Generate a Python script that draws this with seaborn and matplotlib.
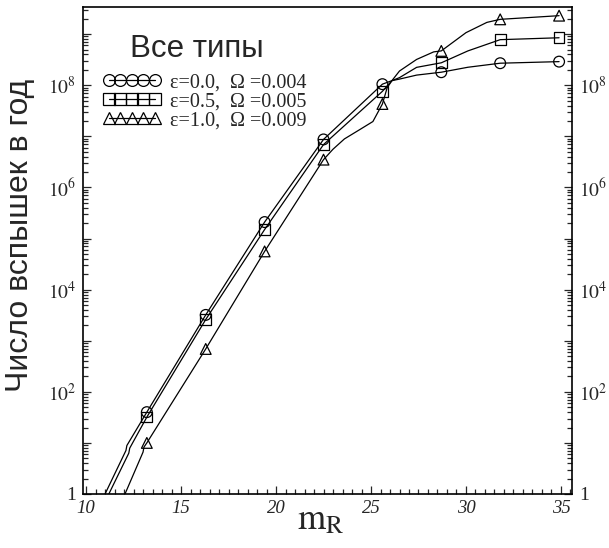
import numpy as np
import pandas as pd
import matplotlib
matplotlib.use("Agg")
import matplotlib.pyplot as plt
import seaborn as sns
from matplotlib.lines import Line2D
from matplotlib.ticker import LogLocator, FuncFormatter, MultipleLocator

# ---------------- data ----------------
marker_x = [13.2, 16.3, 19.4, 22.5, 25.6, 28.7, 31.8, 34.9]
circle_vals = [40, 3.2e3, 2.1e5, 8.7e6, 1.05e8, 1.8e8, 2.7e8, 2.9e8]
square_vals = [32, 2.6e3, 1.5e5, 6.9e6, 7.6e7, 2.75e8, 7.8e8, 8.5e8]
triangle_vals = [10, 690, 5.6e4, 3.5e6, 4.3e7, 4.7e8, 1.95e9, 2.3e9]

circle_curve_x = [11.0, 12.1, 12.15, 13.2, 16.3, 19.4, 22.5, 25.6, 26.1, 26.5,
                  27.4, 28.7, 30.1, 31.8, 34.9]
circle_curve_y = [1, 7.1, 8.9, 40, 3.2e3, 2.1e5, 8.7e6, 1.05e8, 1.23e8, 1.32e8,
                  1.58e8, 1.8e8, 2.25e8, 2.7e8, 2.9e8]
square_curve_x = [11.2, 12.25, 12.3, 13.2, 16.3, 19.4, 22.5, 25.6, 26.1, 26.5,
                  27.4, 28.7, 30.1, 31.8, 34.9]
square_curve_y = [1, 6.3, 7.9, 32, 2.6e3, 1.5e5, 6.9e6, 7.6e7, 1.23e8, 1.41e8,
                  2.24e8, 2.75e8, 4.7e8, 7.8e8, 8.5e8]
triangle_curve_x = [12.05, 13.0, 13.05, 13.2, 16.3, 19.4, 22.5, 23.0, 23.6, 24.4, 25.1,
                    25.6, 25.85, 26.1, 26.5, 27.4, 28.3, 28.7, 30.0, 31.1, 31.8, 34.9]
triangle_curve_y = [1, 6.6, 8.3, 10, 690, 5.6e4, 3.5e6, 5.6e6, 8.9e6, 1.35e7, 1.95e7,
                    4.3e7, 8.9e7, 1.23e8, 1.9e8, 3.2e8, 4.5e8, 4.7e8, 1.07e9, 1.7e9, 1.95e9, 2.3e9]

series_labels = ["\u03b5=0.0,  \u03a9 =0.004",
                 "\u03b5=0.5,  \u03a9 =0.005",
                 "\u03b5=1.0,  \u03a9 =0.009"]
series_markers = ["o", "s", "^"]
x_ticks = [10, 15, 20, 25, 30, 35]
x_tick_labels = ["10", "15", "20", "25", "30", "35"]
title_text = "Все типы"
y_label = "Число вспышек в год"

# ---------------- style ----------------
sns.set_style("white")
plt.rcParams["font.family"] = ["Liberation Serif", "DejaVu Serif"]
plt.rcParams["mathtext.fontset"] = "stix"

fig = plt.figure(figsize=(6.09, 5.48), dpi=100)
ax = fig.add_axes([83 / 609, (548 - 494) / 548, (572 - 83) / 609, (494 - 7) / 548])
ax.set_yscale("log")

curves = [(circle_curve_x, circle_curve_y), (square_curve_x, square_curve_y),
          (triangle_curve_x, triangle_curve_y)]
marks = [circle_vals, square_vals, triangle_vals]

for (cx, cy), vals, mk in zip(curves, marks, series_markers):
    df_line = pd.DataFrame({"x": cx, "y": cy})
    sns.lineplot(data=df_line, x="x", y="y", sort=False, estimator=None,
                 color="black", lw=0.9, ax=ax)
    df_pts = pd.DataFrame({"x": marker_x, "y": vals})
    sns.scatterplot(data=df_pts, x="x", y="y", marker=mk, s=60,
                    facecolor="none", edgecolor="black", linewidth=0.9,
                    zorder=3, ax=ax)

ax.set_xlim(9.84, 35.58)
ax.set_ylim(1, 3.4e9)

# ticks
ax.set_xticks(x_ticks)
ax.set_xticklabels(x_tick_labels, fontstyle="italic", fontsize=13.5)
ax.xaxis.set_minor_locator(MultipleLocator(0.5))
ax.yaxis.set_major_locator(LogLocator(base=10, numticks=30))
ax.yaxis.set_minor_locator(LogLocator(base=10, subs=np.arange(2, 10), numticks=30))


def yfmt(v, pos):
    n = int(round(np.log10(v)))
    if n == 0:
        return "1"
    if n % 2 == 0 and n > 0:
        return r"$10^{%d}$" % n
    return ""


ax.yaxis.set_major_formatter(FuncFormatter(yfmt))
ax.tick_params(axis="y", which="both", direction="in", left=True, right=True,
               labelleft=True, labelright=True, labelsize=14, pad=5, width=0.9)
ax.tick_params(axis="x", which="both", direction="in", bottom=True, top=False,
               pad=4, width=0.9)
ax.tick_params(which="major", length=6)
ax.tick_params(which="minor", length=3.5)
for sp in ax.spines.values():
    sp.set_linewidth(1.2)
    sp.set_color("black")

ax.set_xlabel(r"$\mathrm{m}_\mathrm{R}$", fontsize=26)
ax.xaxis.set_label_coords(0.487, -0.02)
ax.set_ylabel(y_label, family=["Liberation Sans", "DejaVu Sans"], fontsize=23)
ax.yaxis.set_label_coords(-0.098, 0.53)

# legend
handles = [Line2D([], [], color="black", lw=0.9, marker=mk, markersize=8.5,
                  markerfacecolor="none", markeredgecolor="black", markeredgewidth=0.9)
           for mk in series_markers]
ax.legend(handles, series_labels, loc="upper left",
          bbox_to_anchor=(102.6 / 609, 1 - 73 / 548), bbox_transform=fig.transFigure,
          frameon=False, numpoints=5, handlelength=2.9, handletextpad=0.45,
          labelspacing=0.0, borderpad=0, borderaxespad=0, fontsize=14.5)

fig.text(130 / 609, 1 - 57 / 548, title_text, family=["Liberation Sans", "DejaVu Sans"],
         fontsize=22.5, va="baseline", ha="left")

fig.savefig("out.png", dpi=100)
